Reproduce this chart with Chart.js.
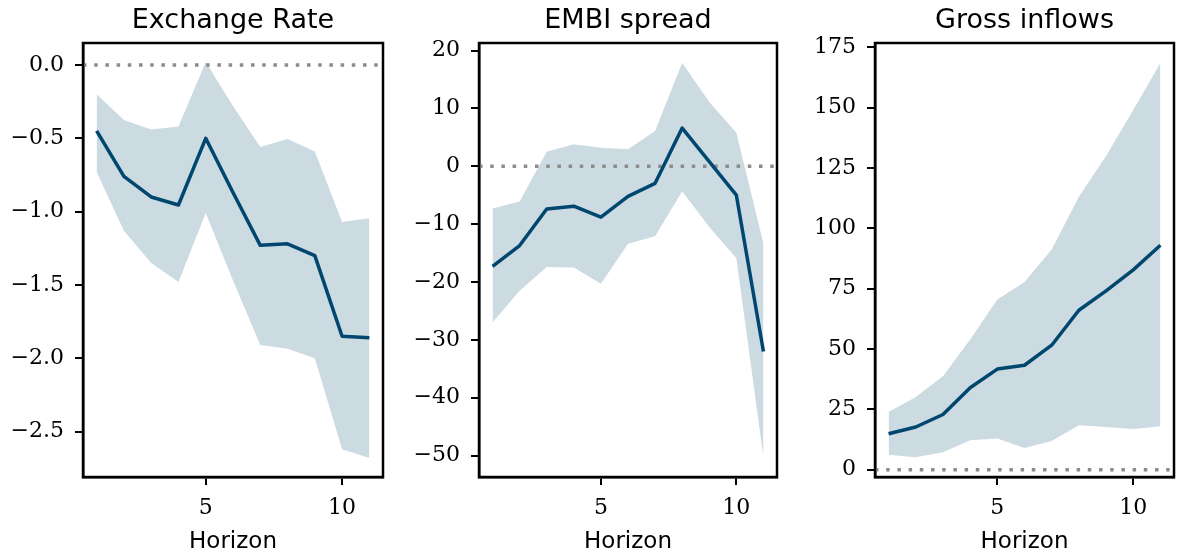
<!DOCTYPE html>
<html>
<head>
<meta charset="utf-8">
<title>Impulse responses</title>
<script src="https://cdn.jsdelivr.net/npm/chart.js@4/dist/chart.umd.min.js"></script>
<style>
  body { margin: 0; background: #fff; }
  #wrap { position: relative; width: 1178px; height: 558px; }
  #wrap canvas { position: absolute; left: 0; top: 0; }
</style>
</head>
<body>
<div id="wrap">
  <canvas id="c-fx" width="1178" height="558"></canvas>
  <canvas id="c-embi" width="1178" height="558"></canvas>
  <canvas id="c-gross" width="1178" height="558"></canvas>
</div>
<script>
// horizons (x axis)
const horizon = [1, 2, 3, 4, 5, 6, 7, 8, 9, 10, 11];
const horizonTicks = [5, 10];

// Exchange rate response with band
const fxMean  = [-0.45, -0.76, -0.90, -0.955, -0.50, -0.87, -1.23, -1.22, -1.30, -1.85, -1.86];
const fxUpper = [-0.20, -0.375, -0.44, -0.42, 0.02, -0.28, -0.56, -0.505, -0.59, -1.07, -1.045];
const fxLower = [-0.73, -1.13, -1.35, -1.48, -1.01, -1.47, -1.91, -1.935, -2.00, -2.62, -2.68];
const fxTicks = [0.0, -0.5, -1.0, -1.5, -2.0, -2.5];

// EMBI spread
const embiMean  = [-17.3, -13.7, -7.4, -6.9, -8.8, -5.2, -2.95, 6.6, 0.8, -5.0, -32.0];
const embiUpper = [-7.3, -6.1, 2.5, 3.8, 3.2, 2.95, 6.1, 17.9, 11.1, 5.8, -13.4];
const embiLower = [-27.0, -21.5, -17.4, -17.5, -20.3, -13.4, -12.1, -4.3, -10.5, -15.9, -50.3];
const embiTicks = [20, 10, 0, -10, -20, -30, -40, -50];

// Gross inflows
const grossMean  = [14.9, 17.7, 22.9, 34.0, 41.7, 43.3, 51.6, 66.1, 74.1, 82.8, 93.0];
const grossUpper = [23.9, 30.1, 38.7, 54.0, 70.5, 77.8, 91.2, 113.1, 130.0, 149.0, 168.5];
const grossLower = [6.2, 5.2, 7.3, 12.2, 12.9, 9.0, 11.9, 18.4, 17.7, 16.9, 18.0];
const grossTicks = [0, 25, 50, 75, 100, 125, 150, 175];

const LINE = '#00476f';
const BAND = '#ccdae2';
const ZERO = '#8c8c8c';

Chart.defaults.color = '#000';
Chart.defaults.animation = false;

const panels = [
  { id: 'c-fx', title: 'Exchange Rate', mean: fxMean, upper: fxUpper, lower: fxLower,
    ticks: fxTicks, decimals: 1, yMin: -2.81, yMax: 0.15, left: 83, right: 383 },
  { id: 'c-embi', title: 'EMBI spread', mean: embiMean, upper: embiUpper, lower: embiLower,
    ticks: embiTicks, decimals: 0, yMin: -53.7, yMax: 21.3, left: 479, right: 777 },
  { id: 'c-gross', title: 'Gross inflows', mean: grossMean, upper: grossUpper, lower: grossLower,
    ticks: grossTicks, decimals: 0, yMin: -3.0, yMax: 176.8, left: 875, right: 1174 }
];

const pts = ys => horizon.map((x, i) => ({ x: x, y: ys[i] }));
const fmt = (v, d) => v.toFixed(d).replace('-', '\u2212');

// box around the plot area + panel title
const framePlugin = {
  id: 'frame',
  afterDatasetsDraw(chart, args, opts) {
    const a = chart.chartArea, ctx = chart.ctx;
    ctx.save();
    ctx.strokeStyle = '#000';
    ctx.lineWidth = 2.5;
    ctx.strokeRect(a.left, a.top, a.right - a.left, a.bottom - a.top);
    ctx.font = '27px "DejaVu Sans"';
    ctx.fillStyle = '#000';
    ctx.textAlign = 'center';
    ctx.textBaseline = 'alphabetic';
    ctx.fillText(opts.text, (a.left + a.right) / 2, 28);
    ctx.restore();
  }
};

panels.forEach(p => {
  new Chart(document.getElementById(p.id), {
    type: 'line',
    data: {
      datasets: [
        { data: pts(p.mean), borderColor: LINE, borderWidth: 3.5, pointRadius: 0,
          borderJoinStyle: 'round', tension: 0, fill: false, order: 0 },
        { data: [{ x: 0.5, y: 0 }, { x: 11.5, y: 0 }], borderColor: ZERO, borderWidth: 3.3,
          borderDash: [3.5, 7.7], pointRadius: 0, fill: false, order: 1 },
        { data: pts(p.upper), borderWidth: 0, borderColor: BAND, backgroundColor: BAND,
          pointRadius: 0, fill: '+1', order: 2 },
        { data: pts(p.lower), borderWidth: 0, borderColor: BAND, backgroundColor: BAND,
          pointRadius: 0, fill: false, order: 3 }
      ]
    },
    options: {
      responsive: false,
      layout: { padding: { top: 43, left: 0, bottom: 0, right: 1178 - p.right } },
      plugins: {
        legend: { display: false },
        tooltip: { enabled: false },
        frame: { text: p.title }
      },
      scales: {
        x: {
          type: 'linear', min: 0.5, max: 11.5,
          afterBuildTicks: s => { s.ticks = horizonTicks.map(v => ({ value: v })); },
          afterFit: s => { s.height = 81; },
          grid: { drawOnChartArea: false, drawTicks: true, tickLength: 8, color: '#000', lineWidth: 2 },
          border: { display: true, color: '#000', width: 2.5 },
          ticks: { font: { family: 'DejaVu Serif', size: 22 }, padding: 10, maxRotation: 0,
                   callback: v => String(v) },
          title: { display: true, text: 'Horizon', font: { family: 'DejaVu Sans', size: 23 },
                   padding: { top: 0, bottom: 2 } }
        },
        y: {
          type: 'linear', min: p.yMin, max: p.yMax,
          afterBuildTicks: s => { s.ticks = p.ticks.map(v => ({ value: v })); },
          afterFit: s => { s.width = p.left; },
          grid: { drawOnChartArea: false, drawTicks: true, tickLength: 8, color: '#000', lineWidth: 2 },
          border: { display: true, color: '#000', width: 2.5 },
          ticks: { font: { family: 'DejaVu Serif', size: 22 }, padding: 11,
                   callback: v => fmt(v, p.decimals) }
        }
      }
    },
    plugins: [framePlugin]
  });
});
</script>
</body>
</html>
